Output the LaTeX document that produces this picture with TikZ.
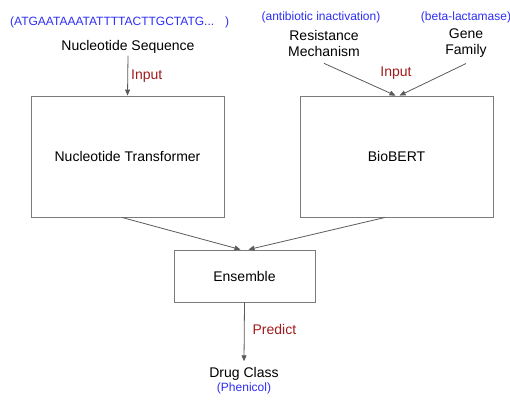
\documentclass[tikz,border=0pt]{standalone}
\usepackage{fontspec}
\setmainfont{Liberation Sans}
\usepackage{xcolor}
\usetikzlibrary{positioning, arrows.meta}
\definecolor{seqblue}{RGB}{45,45,245}
\definecolor{inred}{RGB}{160,28,28}
\definecolor{edgegray}{RGB}{90,90,90}
\tikzset{
  blk/.style={draw=edgegray!80, line width=0.9pt, rectangle, inner sep=0pt},
  lbl/.style={font=\fontsize{14}{16}\selectfont, align=center, inner sep=1pt},
  note/.style={font=\fontsize{12}{14}\selectfont, text=seqblue, inner sep=0pt},
  act/.style={font=\fontsize{14}{16}\selectfont, text=inred, inner sep=0pt},
  edge/.style={draw=edgegray, line width=0.8pt, -{Triangle[length=6pt,width=5pt]}},
}

\begin{document}
\begin{tikzpicture}
              [x=1pt, y=-1pt]
              \useasboundingbox (0,0) rectangle (510,399);
              % nodes %
              \node[note, anchor=west] (seqval) at (10,22) {(ATGAATAAATATTTTACTTGCTATG...\hspace{11pt})};
              \node[lbl] (seq) at (128,47) {Nucleotide Sequence};
              \node[note] (mechval) at (321,17) {(antibiotic inactivation)};
              \node[lbl] (mech) at (324,43) {Resistance\\Mechanism};
              \node[note] (famval) at (466,17) {(beta-lactamase)};
              \node[lbl] (fam) at (466,43) {Gene\\Family};
              \node[blk, lbl, minimum width=193pt, minimum height=121pt] (nt) at (127.5,156.5) {Nucleotide Transformer};
              \node[blk, lbl, minimum width=193pt, minimum height=121pt] (bert) at (396.5,156.5) {BioBERT};
              \node[blk, lbl, minimum width=141pt, minimum height=52pt] (ens) at (244.5,276) {Ensemble};
              \node[lbl] (drug) at (244,374) {Drug Class};
              \node[note, below=1pt of drug] (drugval) {(Phenicol)};

              % edges %
              \draw[edge] ([yshift=-1pt]seq.south) -- (nt.north) node[act, midway, anchor=west, xshift=3pt] (in1) {Input};
              \draw[edge] ([yshift=-6pt]mech.south) -- ([xshift=-1pt]bert.north);
              \draw[edge] ([yshift=-5pt]fam.south) -- ([xshift=3pt]bert.north);
              \node[act] (in2) at (396,73) {Input};
              \draw[edge] ([xshift=-5.5pt]nt.south) -- ([xshift=-4pt]ens.north);
              \draw[edge] ([xshift=-11.5pt]bert.south) -- ([xshift=4pt]ens.north);
              \draw[edge] (ens.south) -- ([yshift=5pt]drug.north) node[act, midway, anchor=west, xshift=8pt, yshift=2pt] (pred) {Predict};
            \end{tikzpicture}
\end{document}
